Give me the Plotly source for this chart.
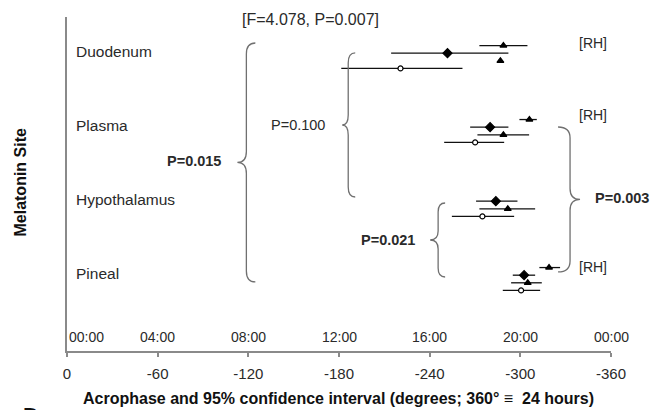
import plotly.graph_objects as go

# ---------------- data ----------------
sites = ["Duodenum", "Plasma", "Hypothalamus", "Pineal"]
site_pos = [0, 1, 2, 3]

# filled diamond series
diamond_acro = [-251.8, -280.0, -283.8, -302.5]
diamond_lo = [-214.5, -266.8, -270.7, -295.0]
diamond_hi = [-292.1, -292.1, -298.1, -309.8]
# filled triangle series
tri_acro = [-286.8, -288.8, -291.7, -304.9]
tri_lo = [-286.8, -271.6, -272.9, -293.9]
tri_hi = [-286.8, -305.8, -309.8, -314.2]
# open circle series
circ_acro = [-220.7, -270.1, -274.9, -300.5]
circ_lo = [-181.5, -249.6, -254.7, -288.4]
circ_hi = [-261.7, -289.3, -295.9, -313.1]
# triangle series, RH
rh_pos = [0, 1, 3]
rh_acro = [-288.8, -306.0, -319.0]
rh_lo = [-272.9, -299.4, -312.6]
rh_hi = [-304.7, -310.9, -326.3]

deg_ticks = [0, -60, -120, -180, -240, -300, -360]
deg_labels = ["0", "-60", "-120", "-180", "-240", "-300", "-360"]
time_labels = ["00:00", "04:00", "08:00", "12:00", "16:00", "20:00", "00:00"]

FONT = "Arial, Liberation Sans, sans-serif"
TXT = "#2a2a2a"
GREY = "#8a8a8a"
BRACE = "#707070"

# layout geometry (page body has an 8px margin -> compensate)
OFF = 8
W, H = 660, 410
L = 66.5 - OFF
T = 17 - OFF
R = W - (611 - OFF)
B = H - (351 - OFF)
X0, X1 = 0, -360
Y_TOP, Y_BOT = -0.54, 3.973
STEP = 0.103

PW, PH = W - L - R, H - T - B
px_per_deg = PW / 360.0
px_per_unit = PH / (Y_BOT - Y_TOP)


def dx(px):
    return -px / px_per_deg


def dy(px):
    return px / px_per_unit


def paper_x(sx):
    return (sx - OFF - L) / PW


def paper_y(sy):
    return (H - B - (sy - OFF)) / PH


fig = go.Figure()


def add_series(pos, acro, lo, hi, off, symbol, size, fill):
    fig.add_trace(go.Scatter(
        x=acro,
        y=[p + off * STEP for p in pos],
        mode="markers",
        marker=dict(symbol=symbol, size=size, color=fill,
                    line=dict(color="black", width=1.2)),
        error_x=dict(type="data", symmetric=False,
                     array=[l - a for l, a in zip(lo, acro)],
                     arrayminus=[a - h for a, h in zip(acro, hi)],
                     width=0, thickness=1.3, color="#111"),
        showlegend=False, hoverinfo="x+y",
    ))


add_series(rh_pos, rh_acro, rh_lo, rh_hi, -1.5, "triangle-up", 6, "black")
add_series(site_pos, diamond_acro, diamond_lo, diamond_hi, -0.5, "diamond", 7, "black")
add_series(site_pos, tri_acro, tri_lo, tri_hi, 0.5, "triangle-up", 6, "black")
add_series(site_pos, circ_acro, circ_lo, circ_hi, 1.5, "circle", 5, "white")


def brace(xv, y0, y1, tip, curl, r, opening=True):
    """Curly brace path in data coords. opening=True -> '{' (tip left)."""
    s = 1 if opening else -1
    ym = (y0 + y1) / 2
    xt = xv + dx(-s * tip)
    xc = xv + dx(s * curl)
    rr = dy(r)
    return (f"M {xc},{y0} Q {xv},{y0} {xv},{y0 + rr} "
            f"L {xv},{ym - rr} Q {xv},{ym} {xt},{ym} "
            f"Q {xv},{ym} {xv},{ym + rr} "
            f"L {xv},{y1 - rr} Q {xv},{y1} {xc},{y1}")


braces = [
    (-118.7, -0.189, 3.04, 9, 9, 11, True),
    (-186.1, -0.054, 1.892, 6, 7, 10, True),
    (-245.6, 1.973, 2.973, 8, 7, 9, True),
    (-332.9, 0.946, 2.905, 10, 12, 11, False),
]
shapes = []
for b in braces:
    shapes.append(dict(type="path", xref="x", yref="y", path=brace(*b),
                       line=dict(color=BRACE, width=1.3)))

ann = []


def text(x, y, s, anchor="left", bold=False, size=14, color=TXT, xref="x", yref="y", **kw):
    ann.append(dict(x=x, y=y, xref=xref, yref=yref, text=(f"<b>{s}</b>" if bold else s),
                    showarrow=False, xanchor=anchor, yanchor="middle",
                    font=dict(family=FONT, size=size, color=color), **kw))


for p, s in zip(site_pos, sites):
    text(-4.5, p - 0.08, s, size=15.5)

for i, (t, lab) in enumerate(zip(deg_ticks, time_labels)):
    text(t, 3.79, lab, anchor="left" if i == 0 else "center", size=14)

text(-114.7, -0.5, "[F=4.078, P=0.007]", size=16)
text(-103.5, 1.405, "P=0.015", anchor="right", bold=True, size=14.5)
text(-172.2, 0.919, "P=0.100", anchor="right", size=14.5)
text(-231.7, 2.473, "P=0.021", anchor="right", bold=True, size=14.5)
text(-348.1, 1.905, "P=0.003", anchor="left", bold=True, size=14.5)
for yy in [-0.189, 0.784, 2.838]:
    text(-337.5, yy, "[RH]", size=14)

# axis titles
text(paper_x(338), paper_y(398),
     "Acrophase and 95% confidence interval (degrees; 360° ≡  24 hours)",
     anchor="center", bold=True, size=16, color="#111", xref="paper", yref="paper")
ann.append(dict(x=paper_x(20), y=paper_y(182), xref="paper", yref="paper",
                text="<b>Melatonin Site</b>", textangle=-90,
                showarrow=False, xanchor="center", yanchor="middle",
                font=dict(family=FONT, size=16, color="#111")))
ann.append(dict(x=paper_x(20), y=paper_y(401), xref="paper", yref="paper",
                text="<b>D</b>", showarrow=False, xanchor="left", yanchor="top",
                font=dict(family=FONT, size=22, color="#111")))

fig.update_layout(
    width=W, height=H,
    margin=dict(l=L, r=R, t=T, b=B),
    paper_bgcolor="white", plot_bgcolor="white",
    shapes=shapes, annotations=ann,
    xaxis=dict(range=[X0, X1], tickvals=deg_ticks, ticktext=deg_labels,
               showline=True, linecolor=GREY, linewidth=1.5,
               ticks="outside", ticklen=4, tickcolor=GREY, tickwidth=1.5,
               showgrid=False, zeroline=False, ticklabelstandoff=4,
               tickfont=dict(family=FONT, size=15, color=TXT)),
    yaxis=dict(range=[Y_BOT, Y_TOP], showline=True, linecolor=GREY, linewidth=1.5,
               showticklabels=False, ticks="", showgrid=False, zeroline=False),
)

fig.write_html("out.html")
